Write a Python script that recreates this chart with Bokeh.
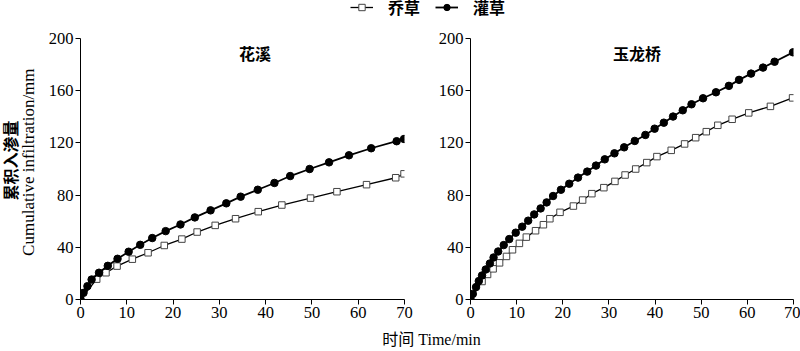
from bokeh.plotting import figure
from bokeh.layouts import column, row
from bokeh.models import (Range1d, FixedTicker, Label, Legend, LegendItem,
                          ColumnDataSource)
from bokeh.embed import file_html
from bokeh.resources import INLINE

# ---------------- data ----------------
x_ticks = [0, 10, 20, 30, 40, 50, 60, 70]
y_ticks = [0, 40, 80, 120, 160, 200]
series_names = ["乔草", "灌草"]
panel_titles = ["花溪", "玉龙桥"]

# 花溪
hx_qiao_t = [0, 3.5, 5.5, 7.9, 11.2, 14.6, 18.1, 21.9, 25.2, 29.1, 33.5, 38.4,
             43.5, 49.7, 55.4, 61.8, 68.1, 69.9]
hx_qiao_v = [0, 15.6, 20.5, 25.6, 30.9, 35.8, 41.4, 46.3, 51.7, 56.8, 61.9, 67.3,
             72.4, 77.7, 82.6, 88.0, 93.3, 96.3]
hx_guan_t = [0, 0.65, 1.5, 2.4, 4.0, 5.9, 8.0, 10.4, 12.9, 15.5, 18.4, 21.6, 24.7,
             28.1, 31.5, 34.6, 38.3, 41.9, 45.3, 49.5, 53.7, 58.0, 62.8, 68.3, 69.9]
hx_guan_v = [0, 5.1, 10.2, 15.3, 20.5, 25.8, 31.2, 36.6, 41.9, 47.1, 52.4, 57.5, 62.9,
             68.3, 73.7, 78.8, 84.1, 89.3, 94.6, 100.0, 105.1, 110.5, 115.9, 121.3, 123.0]

# 玉龙桥
yl_qiao_t = [0, 2.5, 3.7, 4.9, 6.3, 7.8, 9.1, 10.6, 12.1, 14.1, 15.8, 17.2, 19.4,
             22.3, 24.3, 26.3, 28.9, 31.3, 33.5, 35.8, 38.2, 40.4, 43.5, 46.4, 48.8,
             51.1, 53.6, 56.7, 60.3, 65.0, 69.8]
yl_qiao_v = [0, 13.8, 19.2, 23.5, 28.1, 33.0, 38.1, 43.0, 47.8, 52.7, 57.3, 61.9, 66.8,
             71.6, 76.2, 81.1, 85.7, 90.5, 95.4, 100.0, 104.9, 109.5, 114.3, 119.2, 124.0,
             128.6, 133.5, 138.1, 143.0, 148.0, 154.5]
yl_guan_t = [0, 0.5, 1.2, 1.8, 2.5, 3.3, 4.2, 5.0, 6.0, 7.2, 8.4, 9.8, 11.2, 12.5, 13.8,
             15.2, 16.5, 17.9, 19.6, 21.4, 23.3, 25.3, 27.2, 29.1, 31.2, 33.3, 35.6, 37.9,
             39.9, 41.9, 43.9, 46.0, 47.9, 50.4, 53.2, 56.0, 58.2, 60.8, 63.4, 65.9, 69.9]
yl_guan_v = [0, 4.3, 9.5, 14.1, 18.4, 23.0, 27.6, 32.2, 36.8, 41.7, 46.3, 51.2, 55.8, 60.4,
             65.2, 69.8, 74.4, 79.3, 84.1, 88.7, 93.4, 98.0, 102.6, 107.4, 112.0, 116.6,
             121.5, 126.1, 130.9, 135.5, 140.2, 145.0, 149.6, 154.2, 158.8, 163.7, 168.3,
             173.1, 177.7, 182.2, 189.4]

y_label_cn = "累积入渗量"
y_label_en = "Cumulative infiltration/mm"
x_label = "时间 Time/min"

# ---------------- styles ----------------
SERIF = "'Liberation Serif', 'Noto Sans CJK SC'"
CJK = "'Noto Sans CJK SC'"
FS = "16px"
TICK_FS = "16.5px"
QIAO = dict(line=dict(line_color="black", line_width=1.3),
            mark=dict(marker="square", size=6.5, fill_color="white",
                      line_color="#444444", line_width=1))
GUAN = dict(line=dict(line_color="black", line_width=1.8),
            mark=dict(marker="circle", size=7.5, fill_color="black",
                      line_color="black", line_width=1))

TOP_H = 24
PANEL_H = 306
BOT_H = 21


def strip(w, h):
    s = figure(width=w, height=h, x_range=Range1d(0, w), y_range=Range1d(0, h),
               x_axis_location=None, y_axis_location=None, toolbar_location=None,
               output_backend="svg", min_border=0, outline_line_color=None)
    s.xgrid.visible = False
    s.ygrid.visible = False
    return s


def panel(w, title, qt, qv, gt, gv, left, right, title_x):
    p = figure(width=w, height=PANEL_H, x_range=Range1d(0, 70), y_range=Range1d(0, 200),
               toolbar_location=None, output_backend="svg",
               min_border_left=left, min_border_right=right,
               min_border_top=14, min_border_bottom=31, outline_line_color=None)
    p.xgrid.visible = False
    p.ygrid.visible = False
    p.xaxis.ticker = FixedTicker(ticks=x_ticks)
    p.yaxis.ticker = FixedTicker(ticks=y_ticks)
    for ax in (p.xaxis[0], p.yaxis[0]):
        ax.major_tick_out = 5
        ax.major_tick_in = 0
        ax.minor_tick_out = 0
        ax.minor_tick_in = 0
        ax.axis_line_color = "black"
        ax.major_tick_line_color = "black"
        ax.major_label_text_font = SERIF
        ax.major_label_text_font_size = TICK_FS
        ax.major_label_text_color = "black"
        ax.major_label_standoff = 2
    p.line(qt, qv, **QIAO["line"])
    p.scatter(qt, qv, **QIAO["mark"])
    p.line(gt, gv, **GUAN["line"])
    p.scatter(gt, gv, **GUAN["mark"])
    p.add_layout(Label(x=title_x, y=189, text=title, text_align="center",
                       text_baseline="middle", text_font=CJK, text_font_size=FS,
                       text_font_style="bold", text_color="black"))
    return p


p1 = panel(395, panel_titles[0], hx_qiao_t, hx_qiao_v, hx_guan_t, hx_guan_v, 40, 31, 37.7)
p2 = panel(365, panel_titles[1], yl_qiao_t, yl_qiao_v, yl_guan_t, yl_guan_v, 34, 7, 36.1)

# y-label strip (y measured from bottom of the panel row)
ys = strip(40, PANEL_H)
ys.add_layout(Label(x=11, y=163, text=y_label_cn, angle=1.5708, text_align="center",
                    text_baseline="middle", text_font=SERIF, text_font_size=FS,
                    text_font_style="bold", text_color="black"))
ys.add_layout(Label(x=28, y=161, text=y_label_en, angle=1.5708, text_align="center",
                    text_baseline="middle", text_font=SERIF, text_font_size="17px",
                    text_color="black"))

# top legend strip; sample renderers sit outside the visible range
top = strip(800, TOP_H)
hidden = ColumnDataSource(data=dict(x=[-100], y=[-100]))
lq = top.line("x", "y", source=hidden, **QIAO["line"])
sq = top.scatter("x", "y", source=hidden, **QIAO["mark"])
lg = top.line("x", "y", source=hidden, **GUAN["line"])
sg = top.scatter("x", "y", source=hidden, **GUAN["mark"])
legend = Legend(items=[LegendItem(label=series_names[0], renderers=[lq, sq]),
                       LegendItem(label=series_names[1], renderers=[lg, sg])],
                orientation="horizontal", location=(350, 5), glyph_width=23,
                glyph_height=16, label_standoff=15, spacing=15, padding=0, margin=0,
                border_line_color=None, background_fill_alpha=0,
                label_text_font=SERIF, label_text_font_size=FS,
                label_text_font_style="bold", label_text_color="black")
top.add_layout(legend, "center")

# bottom x-label strip
bot = strip(800, BOT_H)
bot.add_layout(Label(x=431, y=12, text=x_label, text_align="center",
                     text_baseline="middle", text_font=SERIF, text_font_size=FS,
                     text_color="black"))

layout = column(top, row(ys, p1, p2), bot)
open("out.html", "w").write(file_html(layout, INLINE))
